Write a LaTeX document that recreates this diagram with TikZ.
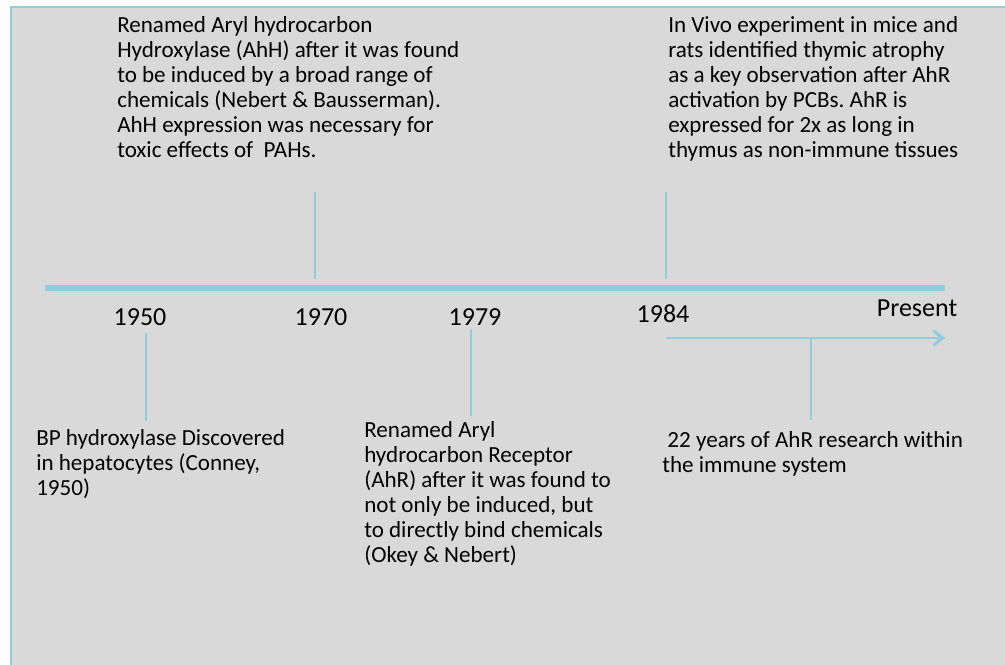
\documentclass[tikz,border=0pt]{standalone}
\usepackage{fontspec}
\setmainfont{Carlito}
\usetikzlibrary{arrows.meta}
\definecolor{bggray}{HTML}{D9D9D9}
\definecolor{lineblue}{HTML}{92CDDC}
\definecolor{shadowgray}{HTML}{A6A6A6}
\tikzset{
  txt/.style={font=\fontsize{17.3}{18.75}\selectfont\frenchspacing, align=left, inner sep=0pt, anchor=north west, text=black},
  yr/.style={font=\fontsize{19.5}{22}\selectfont, inner sep=0pt, anchor=base, text=black},
  tl/.style={draw=lineblue, line width=4.5pt, line cap=butt},
  tick/.style={draw=lineblue, line width=2.2pt},
  shad/.style={draw=shadowgray, opacity=0.6},
}
\begin{document}
\begin{tikzpicture}[x=0.75pt,y=-0.75pt]
\useasboundingbox (0,0) rectangle (1005,664);
% background panel
\fill[white] (0,0) rectangle (1005,664);
\fill[bggray] (11,7) rectangle (1012,672);
\draw[lineblue, line width=1.2pt] (11,672) -- (11,7) -- (1012,7);

% coordinates
\coordinate (tlL) at (45,288);
\coordinate (tlR) at (945,288);
\coordinate (t70a) at (315,192);
\coordinate (t70b) at (315,279);
\coordinate (t84a) at (666,192);
\coordinate (t84b) at (666,279);
\coordinate (t50a) at (146,333);
\coordinate (t50b) at (146,421);
\coordinate (t79a) at (471,329);
\coordinate (t79b) at (471,416);
\coordinate (arL) at (666,338);
\coordinate (arR) at (945,338);
\coordinate (arM) at (811,338);
\coordinate (arD) at (811,420);

% shadows
\begin{scope}[shift={(1,2)}]
\draw[shad, line width=4.5pt] (tlL) -- (tlR);
\draw[shad, line width=2.2pt] (t70a) -- (t70b);
\draw[shad, line width=2.2pt] (t84a) -- (t84b);
\draw[shad, line width=2.2pt] (t50a) -- (t50b);
\draw[shad, line width=2.2pt] (t79a) -- (t79b);
\draw[shad, line width=2.2pt] (arL) -- (arR);
\draw[shad, line width=2.2pt] (arM) -- (arD);
\end{scope}

% timeline
\draw[tl] (tlL) -- (tlR);
\draw[tick] (t70a) -- (t70b);
\draw[tick] (t84a) -- (t84b);
\draw[tick] (t50a) -- (t50b);
\draw[tick] (t79a) -- (t79b);
\draw[tick, -{Straight Barb[length=7pt,width=11pt]}] (arL) -- (arR);
\draw[tick] (arM) -- (arD);

% year labels
\node[yr] (y1950) at (140,325) {1950};
\node[yr] (y1970) at (321,325) {1970};
\node[yr] (y1979) at (475,325) {1979};
\node[yr] (y1984) at (663,322) {1984};
\node[yr] (ypres) at (917,316) {Present};

% texts
\node[txt] (n1970) at (117,16) {Renamed Aryl hydrocarbon\\Hydroxylase (AhH) after it was found\\to be induced by a broad range of\\chemicals (Nebert \& Bausserman).\\AhH expression was necessary for\\toxic effects of \ PAHs.};
\node[txt] (n1984) at (668,16) {In Vivo experiment in mice and\\rats identified thymic atrophy\\as a key observation after AhR\\activation by PCBs. AhR is\\expressed for 2x as long in\\thymus as non-immune tissues};
\node[txt] (n1950) at (36,429) {BP hydroxylase Discovered\\in hepatocytes (Conney,\\1950)};
\node[txt] (n1979) at (364,421) {Renamed Aryl\\hydrocarbon Receptor\\(AhR) after it was found to\\not only be induced, but\\to directly bind chemicals\\(Okey \& Nebert)};
\node[txt] (npres) at (662,431) {\ 22 years of AhR research within\\the immune system};
\end{tikzpicture}
\end{document}
